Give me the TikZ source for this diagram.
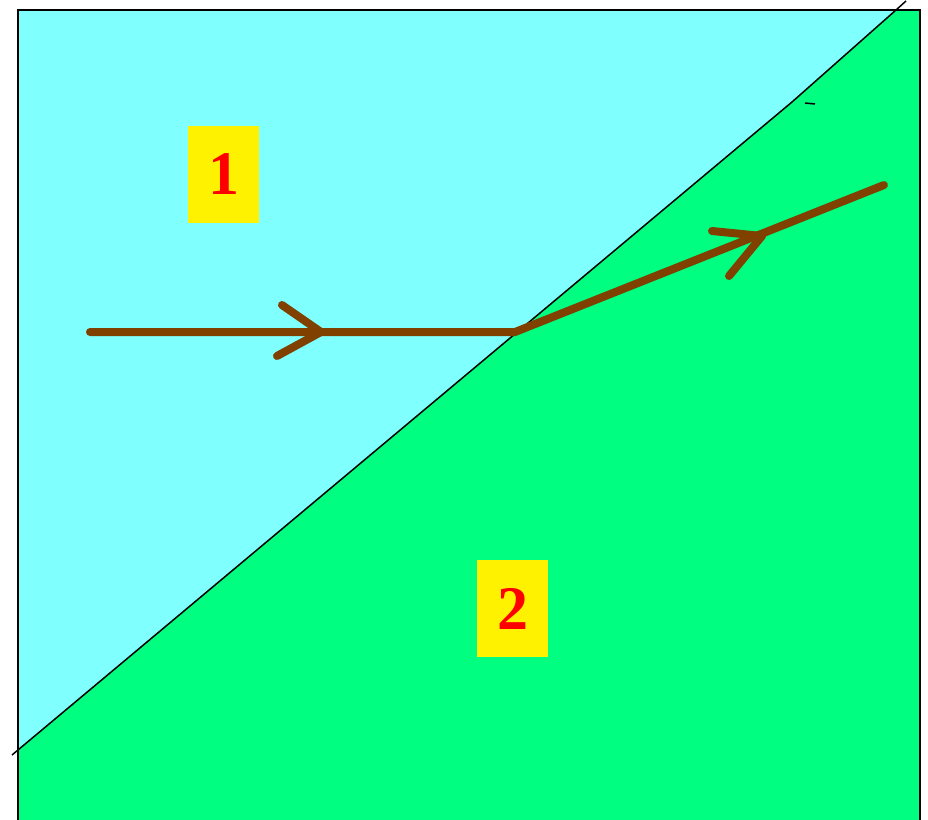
\documentclass[tikz,border=0pt]{standalone}
\usepackage{fontspec}
\setmainfont{Liberation Serif}
\definecolor{medium1}{RGB}{128,255,255}
\definecolor{medium2}{RGB}{0,255,128}
\definecolor{raybrown}{RGB}{128,64,0}
\begin{document}
\begin{tikzpicture}[x=1pt,y=-1pt,
  ray/.style={draw=raybrown,line width=8pt,line cap=round,line join=round},
  label box/.style={fill=yellow,text=red,font=\bfseries\fontsize{62}{62}\selectfont,
    minimum width=71pt,minimum height=97pt,inner sep=0pt}]
\useasboundingbox (0,0) rectangle (928,819);
% interface points
\coordinate (ifA) at (12,755);
\coordinate (ifK) at (792,102);
\coordinate (ifT) at (896,10);
\coordinate (ifB) at (906,1);
% media
\fill[medium1] (18,10) rectangle (920,825);
\fill[medium2] (18,750) -- (ifK) -- (ifT) -- (920,10) -- (920,825) -- (18,825) -- cycle;
% interface
\draw[line width=1.5pt] (ifA) -- (ifK) -- (ifT) -- (ifB);
\draw[line width=1.5pt] (805,103) -- (815,104);
% frame
\draw[line width=2.5pt] (18,825) -- (18,10) -- (920,10) -- (920,825);
% labels
\node[label box] (m1) at (223.5,174.5) {1};
\node[label box] (m2) at (512.5,608.5) {2};
% rays
\coordinate (s) at (90,332);
\coordinate (o) at (515,332);
\coordinate (e) at (884,185);
\coordinate (t1) at (321,332);
\coordinate (t2) at (762,236);
\draw[ray] (s) -- (o) -- (e);
\draw[ray] (282,305) -- (t1) -- (277,356);
\draw[ray] (712,231) -- (t2) -- (729,276);
\end{tikzpicture}
\end{document}
